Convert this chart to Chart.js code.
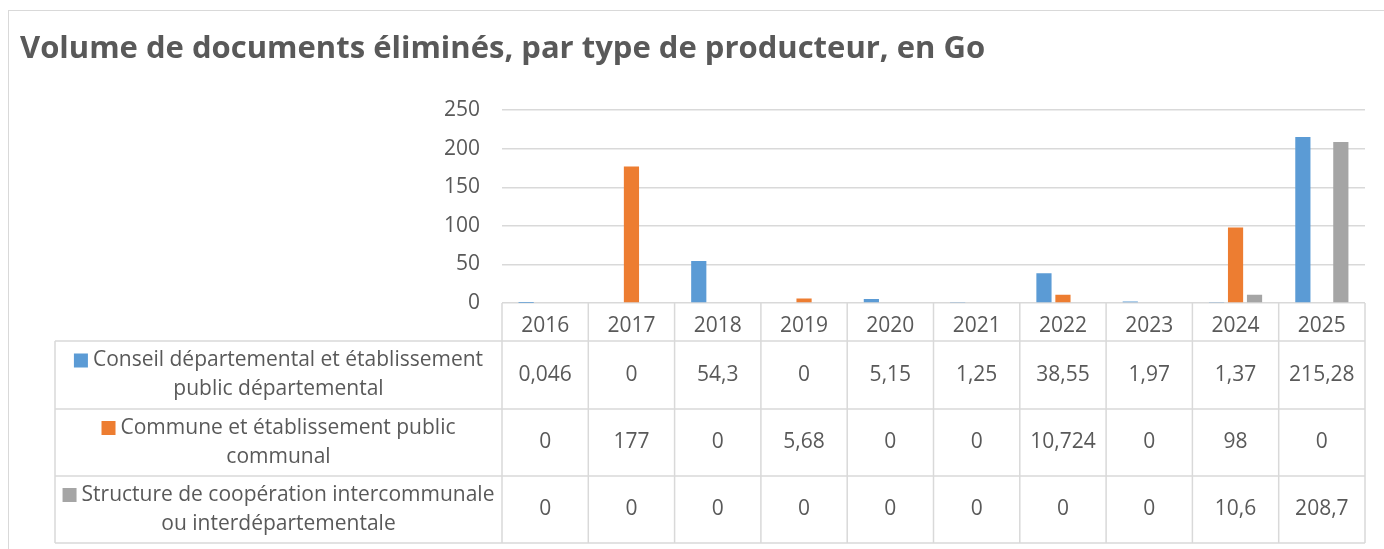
<!DOCTYPE html>
<html lang="fr">
<head>
<meta charset="utf-8">
<script src="https://cdn.jsdelivr.net/npm/chart.js@4"></script>
<style>
  html, body { margin: 0; padding: 0; background: #fff; }
  #cadre { position: absolute; left: 8px; top: 10px; width: 1400px; height: 600px; border: 1.5px solid #D9D9D9; }
  #zone { position: absolute; left: 0; top: 0; width: 1384px; height: 549px; }
</style>
</head>
<body>
<div id="cadre"></div>
<div id="zone"><canvas id="graphiqueVolumes"></canvas></div>
<script>
// données
const annees = ['2016', '2017', '2018', '2019', '2020', '2021', '2022', '2023', '2024', '2025'];
const conseilDepartemental = [0.046, 0, 54.3, 0, 5.15, 1.25, 38.55, 1.97, 1.37, 215.28];
const communes = [0, 177, 0, 5.68, 0, 0, 10.724, 0, 98, 0];
const structuresCooperation = [0, 0, 0, 0, 0, 0, 0, 0, 10.6, 208.7];
const nomsSeries = [
    'Conseil départemental et établissement public départemental',
    'Commune et établissement public communal',
    'Structure de coopération intercommunale ou interdépartementale'
];
const couleurs = ['#5B9BD5', '#ED7D31', '#A5A5A5'];
const graduations = [0, 50, 100, 150, 200, 250];

const police = '"Open Sans", sans-serif';
const gris = '#595959';
const trait = '#D9D9D9';

function formatFr(v) {
    return String(v).replace('.', ',');
}

function decouper(ctx, texte, largeurMax) {
    const mots = texte.split(' ');
    const lignes = [];
    let courante = '';
    mots.forEach(m => {
        const essai = courante ? courante + ' ' + m : m;
        if (ctx.measureText(essai).width > largeurMax && courante) {
            lignes.push(courante);
            courante = m;
        } else {
            courante = essai;
        }
    });
    if (courante) lignes.push(courante);
    return lignes;
}

// tableau de données sous le graphique
const tableauDonnees = {
    id: 'tableauDonnees',
    afterDraw(chart) {
        const { ctx, chartArea: a } = chart;
        const n = annees.length;
        const largeurCol = (a.right - a.left) / n;
        const hautEntete = a.bottom + 38;
        const hauteurs = [68, 67, 67];
        const gauche = 55;
        const lignesY = [hautEntete];
        hauteurs.forEach(h => lignesY.push(lignesY[lignesY.length - 1] + h));
        const bas = lignesY[lignesY.length - 1];

        ctx.save();
        ctx.strokeStyle = trait;
        ctx.lineWidth = 1.5;
        ctx.beginPath();
        for (let i = 0; i <= n; i++) {
            const x = a.left + i * largeurCol;
            ctx.moveTo(x, a.bottom);
            ctx.lineTo(x, bas);
        }
        lignesY.forEach(y => {
            ctx.moveTo(gauche, y);
            ctx.lineTo(a.right, y);
        });
        ctx.moveTo(gauche, hautEntete);
        ctx.lineTo(gauche, bas);
        ctx.stroke();

        const series = chart.data.datasets;
        ctx.font = '21px ' + police;
        ctx.fillStyle = gris;
        ctx.textBaseline = 'middle';
        series.forEach((ds, r) => {
            const haut = lignesY[r];
            const milieu = haut + hauteurs[r] / 2;
            // valeurs
            ctx.textAlign = 'center';
            ds.data.forEach((v, i) => {
                ctx.fillText(formatFr(v), a.left + (i + 0.5) * largeurCol, milieu);
            });
            // libellé avec carré de couleur
            const carre = 14, ecart = 5;
            const lignes = decouper(ctx, ds.label, a.left - gauche - 12 - carre - ecart);
            const interligne = 29;
            const centreCellule = (gauche + a.left) / 2;
            lignes.forEach((l, k) => {
                const y = milieu + (k - (lignes.length - 1) / 2) * interligne;
                ctx.textAlign = 'left';
                if (k === 0) {
                    const w = ctx.measureText(l).width + carre + ecart;
                    const x0 = centreCellule - w / 2;
                    ctx.fillStyle = ds.backgroundColor;
                    ctx.fillRect(x0, y - carre / 2, carre, carre);
                    ctx.fillStyle = gris;
                    ctx.fillText(l, x0 + carre + ecart, y);
                } else {
                    ctx.textAlign = 'center';
                    ctx.fillText(l, centreCellule, y);
                }
            });
        });
        ctx.restore();
    }
};

new Chart(document.getElementById('graphiqueVolumes'), {
    type: 'bar',
    data: {
        labels: annees,
        datasets: [
            { label: nomsSeries[0], data: conseilDepartemental, backgroundColor: couleurs[0] },
            { label: nomsSeries[1], data: communes, backgroundColor: couleurs[1] },
            { label: nomsSeries[2], data: structuresCooperation, backgroundColor: couleurs[2] }
        ]
    },
    options: {
        responsive: true,
        maintainAspectRatio: false,
        animation: false,
        categoryPercentage: 0.66,
        barPercentage: 0.8,
        layout: { padding: { left: 20, right: 19, top: 0, bottom: 208 } },
        plugins: {
            legend: { display: false },
            tooltip: { enabled: false },
            title: {
                display: true,
                text: 'Volume de documents éliminés, par type de producteur, en Go',
                align: 'start',
                color: gris,
                font: { family: police, size: 31, weight: 'bold' },
                padding: { top: 31, bottom: 42 }
            }
        },
        scales: {
            x: {
                grid: { display: false },
                border: { display: false },
                ticks: { color: gris, font: { family: police, size: 21 }, padding: 2, maxRotation: 0 },
                afterFit(scale) { scale.height = 38; }
            },
            y: {
                min: 0,
                max: 250,
                afterBuildTicks(scale) { scale.ticks = graduations.map(v => ({ value: v })); },
                grid: { color: trait, lineWidth: 1.5, drawTicks: false },
                border: { display: false },
                ticks: { color: gris, font: { family: police, size: 21 }, padding: 22 },
                afterFit(scale) { scale.width = 482; }
            }
        }
    },
    plugins: [tableauDonnees]
});
</script>
</body>
</html>
